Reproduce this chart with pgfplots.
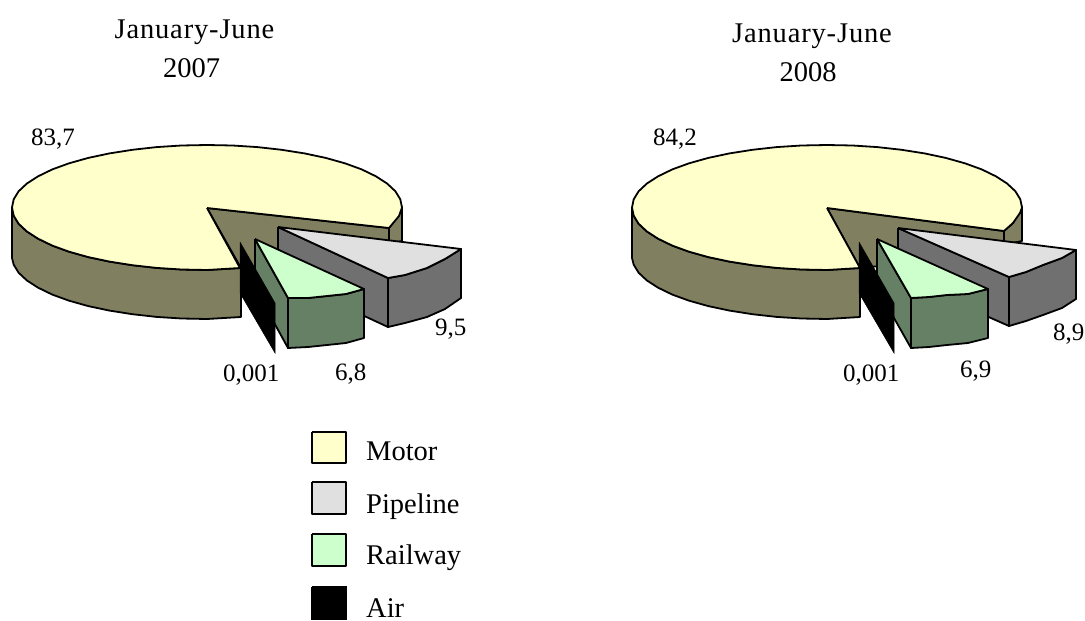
\documentclass[border=0pt]{standalone}
\usepackage{fontspec}
\setmainfont{Liberation Serif}
\usepackage{pgfplots}
\pgfplotsset{compat=1.18}
\definecolor{motortop}{HTML}{FFFFCC}
\definecolor{motorside}{HTML}{808060}
\definecolor{pipetop}{HTML}{E0E0E0}
\definecolor{pipeside}{HTML}{707070}
\definecolor{railtop}{HTML}{CCFFCC}
\definecolor{railside}{HTML}{668066}
\newcommand{\lab}{\fontsize{25}{25}\selectfont}
\newcommand{\ttl}{\fontsize{28.5}{30}\selectfont}
\newcommand{\ttls}{\fontsize{28.5}{30}\selectfont\addfontfeatures{LetterSpace=3}}
\newcommand{\leg}{\fontsize{28.5}{28.5}\selectfont}
\pgfplotsset{face/.style={fill=#1,draw=black,line width=1.8pt,line join=round,mark=none,forget plot}}
\begin{document}
\begin{tikzpicture}
\begin{axis}[
  scale only axis, width=1085pt, height=621pt,
  xmin=0, xmax=1085, ymin=0, ymax=621, y dir=reverse,
  axis lines=none, clip=false,
]
% white page so that the picture keeps its full extent
\addplot[fill=white,draw=none,mark=none,forget plot] coordinates {(0,0)(1085,0)(1085,621)(0,621)(0,0)};
% ---------- January-June 2007 ----------
\addplot[face=motorside] coordinates {(207,208)(389,228)(400,213)(402,207)(402,241)(300,262)(241,268)(207,208)};
\addplot[face=motorside] coordinates {(12,207.5)(13.7,215.7)(18.6,223.7)(26.8,231.4)(38.1,238.7)(52.3,245.6)(69.1,251.7)(88.3,257.1)(109.5,261.6)(132.4,265.2)(156.5,267.9)(181.5,269.5)(207,270)(241,268)(241,317)(207,319)(181.5,318.5)(156.5,316.9)(132.4,314.2)(109.5,310.6)(88.3,306.1)(69.1,300.7)(52.3,294.6)(38.1,287.7)(26.8,280.4)(18.6,272.7)(13.7,264.7)(12,258)(12,207.5)};
\addplot[face=motortop] coordinates {(207,208)(389,228)(399,216)(402,207.5)(400.3,199.3)(395.4,191.3)(387.2,183.6)(375.9,176.3)(361.7,169.4)(344.9,163.3)(325.7,157.9)(304.5,153.4)(281.6,149.8)(257.5,147.1)(232.5,145.5)(207,145)(181.5,145.5)(156.5,147.1)(132.4,149.8)(109.5,153.4)(88.3,157.9)(69.1,163.3)(52.3,169.4)(38.1,176.3)(26.8,183.6)(18.6,191.3)(13.7,199.3)(12,207.5)(13.7,215.7)(18.6,223.7)(26.8,231.4)(38.1,238.7)(52.3,245.6)(69.1,251.7)(88.3,257.1)(109.5,261.6)(132.4,265.2)(156.5,267.9)(181.5,269.5)(207,270)(240,268)(207,208)};
\addplot[black,line width=1.8pt,mark=none,forget plot] coordinates {(389,228)(389,242)};
% pipeline
\addplot[face=pipeside] coordinates {(278,227)(388,278)(388,327)(278,276)(278,227)};
\addplot[face=pipeside] coordinates {(388,278)(405,275)(427,268)(445,259)(461,249)(461,298)(445,309)(427,317)(405,323)(388,327)(388,278)};
\addplot[face=pipetop] coordinates {(278,227)(461,249)(445,259)(427,268)(405,275)(388,278)(278,227)};
% railway
\addplot[face=railside] coordinates {(255,239)(288,298)(288,348)(255,288)(255,239)};
\addplot[face=railside] coordinates {(288,298)(308,298)(327,296)(346,294)(364,289)(364,338)(346,343)(327,345)(308,347)(288,348)(288,298)};
\addplot[face=railtop] coordinates {(255,239)(364,289)(346,294)(327,296)(308,298)(288,298)(255,239)};
% air
\addplot[fill=black,draw=black,line width=0.5pt,mark=none,forget plot] coordinates {(240,242)(275,303)(275,353)(240,293)(240,242)};
% ---------- January-June 2008 ----------
\addplot[face=motorside] coordinates {(827,208)(1004,231)(1013,223)(1022,207)(1022,241)(920,262)(860,268)(827,208)};
\addplot[face=motorside] coordinates {(632,207.5)(633.7,215.7)(638.6,223.7)(646.8,231.4)(658.1,238.7)(672.3,245.6)(689.1,251.7)(708.3,257.1)(729.5,261.6)(752.4,265.2)(776.5,267.9)(801.5,269.5)(827,270)(860,268)(860,317)(827,319)(801.5,318.5)(776.5,316.9)(752.4,314.2)(729.5,310.6)(708.3,306.1)(689.1,300.7)(672.3,294.6)(658.1,287.7)(646.8,280.4)(638.6,272.7)(633.7,264.7)(632,258)(632,207.5)};
\addplot[face=motortop] coordinates {(827,208)(1004,231)(1013,223)(1020,213)(1022,207.5)(1020.3,199.3)(1015.4,191.3)(1007.2,183.6)(995.9,176.3)(981.7,169.4)(964.9,163.3)(945.7,157.9)(924.5,153.4)(901.6,149.8)(877.5,147.1)(852.5,145.5)(827,145)(801.5,145.5)(776.5,147.1)(752.4,149.8)(729.5,153.4)(708.3,157.9)(689.1,163.3)(672.3,169.4)(658.1,176.3)(646.8,183.6)(638.6,191.3)(633.7,199.3)(632,207.5)(633.7,215.7)(638.6,223.7)(646.8,231.4)(658.1,238.7)(672.3,245.6)(689.1,251.7)(708.3,257.1)(729.5,261.6)(752.4,265.2)(776.5,267.9)(801.5,269.5)(827,270)(860,268)(827,208)};
\addplot[black,line width=1.8pt,mark=none,forget plot] coordinates {(1004,231)(1004,244)};
% pipeline
\addplot[face=pipeside] coordinates {(898,228)(1009,277)(1009,326)(898,277)(898,228)};
\addplot[face=pipeside] coordinates {(1009,277)(1026,272)(1043,265)(1062,258)(1076,250)(1076,299)(1062,308)(1043,315)(1026,321)(1009,326)(1009,277)};
\addplot[face=pipetop] coordinates {(898,228)(1076,250)(1062,258)(1043,265)(1026,272)(1009,277)(898,228)};
% railway
\addplot[face=railside] coordinates {(877,239)(911,298)(911,348)(877,288)(877,239)};
\addplot[face=railside] coordinates {(911,298)(929,297)(947,295)(968,294)(988,289)(988,338)(968,343)(947,345)(929,347)(911,348)(911,298)};
\addplot[face=railtop] coordinates {(877,239)(988,289)(968,294)(947,295)(929,297)(911,298)(877,239)};
% air
\addplot[fill=black,draw=black,line width=0.5pt,mark=none,forget plot] coordinates {(859,242)(894,303)(894,353)(859,293)(859,242)};
% ---------- legend keys ----------
\addplot[face=motortop] coordinates {(312,432)(346,432)(346,463)(312,463)(312,432)};
\addplot[face=pipetop] coordinates {(312,482)(346,482)(346,514)(312,514)(312,482)};
\addplot[face=railtop] coordinates {(312,534)(346,534)(346,566)(312,566)(312,534)};
\addplot[fill=black,draw=black,line width=1.5pt,mark=none,forget plot] coordinates {(312,587)(346,587)(346,619)(312,619)(312,587)};
% ---------- text ----------
\node[anchor=base,inner sep=0pt] at (axis cs:194.5,38) {\ttls January-June};
\node[anchor=base,inner sep=0pt] at (axis cs:191.5,77) {\ttl 2007};
\node[anchor=base,inner sep=0pt] at (axis cs:812,42) {\ttls January-June};
\node[anchor=base,inner sep=0pt] at (axis cs:808,81) {\ttl 2008};
\node[anchor=base west,inner sep=0pt] at (axis cs:31,145) {\lab 83,7};
\node[anchor=base west,inner sep=0pt] at (axis cs:653,145) {\lab 84,2};
\node[anchor=base west,inner sep=0pt] at (axis cs:435,335) {\lab 9,5};
\node[anchor=base west,inner sep=0pt] at (axis cs:335,380) {\lab 6,8};
\node[anchor=base west,inner sep=0pt] at (axis cs:223,381) {\lab 0,001};
\node[anchor=base west,inner sep=0pt] at (axis cs:1053,340) {\lab 8,9};
\node[anchor=base west,inner sep=0pt] at (axis cs:960,377) {\lab 6,9};
\node[anchor=base west,inner sep=0pt] at (axis cs:843,381) {\lab 0,001};
\node[anchor=base west,inner sep=0pt] at (axis cs:366,460) {\leg Motor};
\node[anchor=base west,inner sep=0pt] at (axis cs:366,513) {\leg Pipeline};
\node[anchor=base west,inner sep=0pt] at (axis cs:366,564) {\leg Railway};
\node[anchor=base west,inner sep=0pt] at (axis cs:366,617) {\leg Air};
\end{axis}
\end{tikzpicture}
\end{document}
